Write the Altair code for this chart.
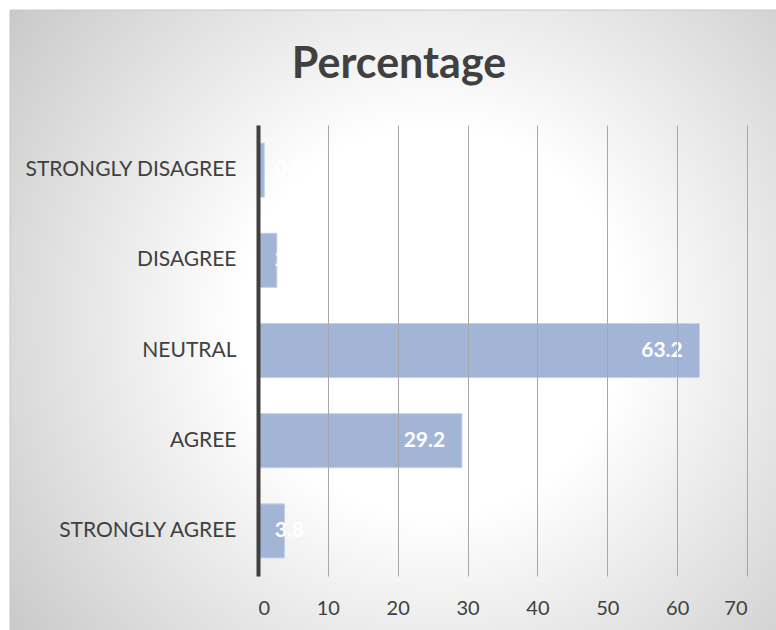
import altair as alt
import pandas as pd

# Survey responses and their percentage shares
categories = ["STRONGLY DISAGREE", "DISAGREE", "NEUTRAL", "AGREE", "STRONGLY AGREE"]
percentages = [0.9, 2.7, 63.2, 29.2, 3.8]
x_ticks = [0, 10, 20, 30, 40, 50, 60, 70]
chart_title = "Percentage"

df = pd.DataFrame({"category": categories, "pct": percentages})

W, H = 489, 451
PAD = {"left": 258, "top": 125, "right": 29, "bottom": 54}

y_enc = alt.Y(
    "category:N",
    sort=categories,
    scale=alt.Scale(paddingInner=0.4, paddingOuter=0.2),
    axis=alt.Axis(
        title=None, ticks=False, labelPadding=22, labelFontSize=21,
        labelFont="Lato", labelColor="#404040", labelLimit=400,
        domainColor="#404040", domainWidth=4, grid=False, zindex=1,
    ),
)
x_scale = alt.Scale(domain=[0, 70], nice=False)

# soft radial backdrop behind the whole chart
backdrop = alt.Chart(alt.Data(values=[{}])).mark_rect(
    fill=alt.Gradient(
        gradient="radial",
        stops=[
            alt.GradientStop(offset=0, color="#ffffff"),
            alt.GradientStop(offset=0.34, color="#ffffff"),
            alt.GradientStop(offset=1, color="#c2c2c2"),
        ],
        x1=0.55, y1=0.5, r1=0, x2=0.55, y2=0.5, r2=0.74,
    ),
    stroke="#c8c8c8",
    strokeWidth=1,
).encode(
    x=alt.value(10 - PAD["left"]),
    x2=alt.value(W + PAD["right"] + 2),
    y=alt.value(10 - PAD["top"]),
    y2=alt.value(H + PAD["bottom"] + 2),
)

title = alt.Chart(alt.Data(values=[{"t": chart_title}])).mark_text(
    align="center", baseline="alphabetic", font="Lato", fontSize=43,
    fontWeight="bold", color="#404040",
).encode(
    x=alt.value(141),
    y=alt.value(-47),
    text="t:N",
)

bars = alt.Chart(df).mark_bar(color="#a3b5d7", stroke="#c6d1e7", strokeWidth=1).encode(
    x=alt.X(
        "pct:Q",
        scale=x_scale,
        axis=alt.Axis(
            title=None, values=x_ticks, ticks=False, domain=False,
            grid=True, gridColor="#a8a8a8", gridWidth=1,
            labelFontSize=20, labelFont="Lato", labelColor="#404040",
            labelPadding=22, zindex=1,
        ),
    ),
    y=y_enc,
)

# value labels sit inside the bar end; short bars keep them near the start
labels = alt.Chart(df).transform_calculate(
    label_x="max(datum.pct - 2.4, 6.6)"
).mark_text(
    align="right", baseline="middle", color="#ffffff",
    font="Lato", fontWeight="bold", fontSize=21,
).encode(
    x=alt.X("label_x:Q", scale=x_scale),
    y=alt.Y("category:N", sort=categories),
    text=alt.Text("pct:Q", format=".1f"),
)

chart = (
    alt.layer(backdrop, title, bars, labels)
    .properties(
        width=W,
        height=H,
        padding=PAD,
        autosize=alt.AutoSizeParams(type="none"),
        background="#ffffff",
    )
    .configure_view(stroke=None)
)

chart.save("out.html", embed_options={"renderer": "svg", "actions": False})
